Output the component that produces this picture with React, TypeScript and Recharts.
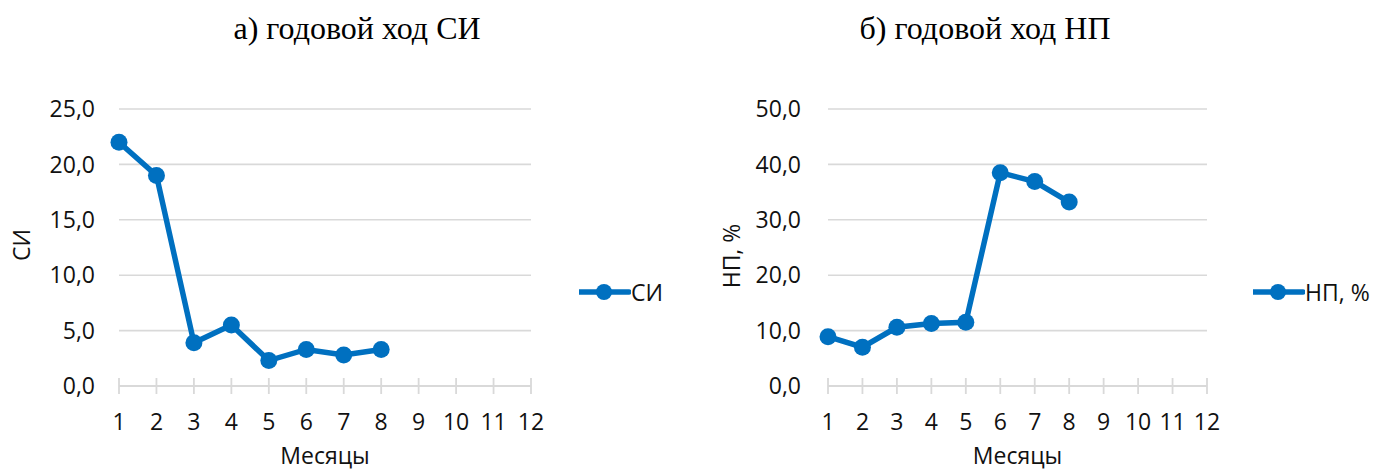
import React from 'react';
import { LineChart, Line, XAxis, YAxis, CartesianGrid, Legend } from 'recharts';

const months = [1, 2, 3, 4, 5, 6, 7, 8];
const siValues = [22.0, 19.0, 3.9, 5.5, 2.3, 3.3, 2.8, 3.3];
const npValues = [8.9, 7.0, 10.6, 11.3, 11.5, 38.5, 36.9, 33.2];
const xTicks = [1, 2, 3, 4, 5, 6, 7, 8, 9, 10, 11, 12];
const siTicks = [0, 5, 10, 15, 20, 25];
const npTicks = [0, 10, 20, 30, 40, 50];
const titleSI = 'а) годовой ход СИ';
const titleNP = 'б) годовой ход НП';
const xAxisTitle = 'Месяцы';
const siName = 'СИ';
const npName = 'НП, %';

const siData = months.map((m, i) => ({ m, v: siValues[i] }));
const npData = months.map((m, i) => ({ m, v: npValues[i] }));

const BLUE = '#0070C0';
const GRID = '#d9d9d9';
const TEXT = '#111111';
const SANS = "'Open Sans', 'Noto Sans', sans-serif";
const FS = 23;
const X_TICK_MARGIN = 35;

const fmt = (v: number) => v.toFixed(1).replace('.', ',');

const XTick = (props: any) => {
  const { x, y, payload } = props;
  const axisY = y - X_TICK_MARGIN;
  return (
    <g>
      <line x1={x} x2={x} y1={axisY - 8} y2={axisY + 8} stroke={GRID} strokeWidth={1.8} />
      <text x={x} y={y} textAnchor="middle" dominantBaseline="central" fontFamily={SANS} fontSize={FS} fill={TEXT}>
        {payload.value}
      </text>
    </g>
  );
};

const makeLegend = () => (props: any) => {
  const item = (props.payload || [])[0];
  if (!item) return null;
  return (
    <div style={{ display: 'flex', alignItems: 'center', height: 24 }}>
      <svg width={52} height={24} style={{ display: 'block' }}>
        <line x1={0} x2={50} y1={12} y2={12} stroke={BLUE} strokeWidth={5.5} strokeLinecap="round" />
        <circle cx={25} cy={12} r={8} fill={BLUE} />
      </svg>
      <span style={{ fontFamily: SANS, fontSize: FS, color: TEXT, whiteSpace: 'nowrap', lineHeight: '24px' }}>{item.value}</span>
    </div>
  );
};

const yTitle = (text: string, dx: number, cy: number) => (p: any) => {
  const vb = p.viewBox || {};
  const x = (vb.x || 0) + dx;
  return (
    <text
      x={x}
      y={cy}
      transform={`rotate(-90 ${x} ${cy})`}
      textAnchor="middle"
      dominantBaseline="central"
      fontFamily={SANS}
      fontSize={FS}
      fill={TEXT}
    >
      {text}
    </text>
  );
};

const xTitle = (text: string, cy: number) => (p: any) => {
  const vb = p.viewBox || {};
  const x = (vb.x || 0) + (vb.width || 0) / 2;
  return (
    <text x={x} y={cy} textAnchor="middle" dominantBaseline="central" fontFamily={SANS} fontSize={FS} fill={TEXT}>
      {text}
    </text>
  );
};

type PanelProps = {
  data: { m: number; v: number }[];
  yTicks: number[];
  yMax: number;
  yAxisWidth: number;
  plotWidth: number;
  yTickMargin: number;
  name: string;
  yTitleDx: number;
  yTitleCy: number;
  width: number;
  legendLeft: number;
};

const Panel = (p: PanelProps) => (
  <LineChart
    width={p.width}
    height={472}
    data={p.data}
    margin={{ top: 109, right: p.width - p.yAxisWidth - p.plotWidth, bottom: 0, left: 0 }}
  >
    <CartesianGrid horizontal vertical={false} stroke={GRID} strokeWidth={1.6} />
    <XAxis
      dataKey="m"
      type="number"
      domain={[1, 12]}
      ticks={xTicks}
      interval={0}
      height={86}
      tickSize={0}
      tickMargin={X_TICK_MARGIN}
      tickLine={false}
      axisLine={{ stroke: GRID, strokeWidth: 1.8 }}
      tick={<XTick />}
      label={{ content: xTitle(xAxisTitle, 455) }}
    />
    <YAxis
      type="number"
      domain={[0, p.yMax]}
      ticks={p.yTicks}
      interval={0}
      width={p.yAxisWidth}
      axisLine={false}
      tickLine={false}
      tickSize={0}
      tickMargin={p.yTickMargin}
      tickFormatter={fmt}
      tick={{ fontFamily: SANS, fontSize: FS, fill: TEXT }}
      label={{ content: yTitle(p.name, p.yTitleDx, p.yTitleCy) }}
    />
    <Legend
      layout="horizontal"
      align="center"
      verticalAlign="middle"
      content={makeLegend()}
      wrapperStyle={{ left: p.legendLeft, top: 280, width: 130, height: 24 }}
    />
    <Line
      type="linear"
      dataKey="v"
      name={p.name}
      stroke={BLUE}
      strokeWidth={5.5}
      dot={{ r: 8.5, fill: BLUE, stroke: BLUE, strokeWidth: 0 }}
      activeDot={false}
      isAnimationActive={false}
    />
  </LineChart>
);

const titleStyle = (center: number): React.CSSProperties => ({
  position: 'absolute',
  top: 12,
  left: center - 250,
  width: 500,
  textAlign: 'center',
  fontFamily: "'Liberation Serif', 'Times New Roman', serif",
  fontSize: 32,
  lineHeight: '32px',
  color: '#000',
  whiteSpace: 'nowrap',
});

export default function App() {
  return (
    <div style={{ position: 'absolute', left: 0, top: 0, width: 1376, height: 472, background: '#fff', overflow: 'hidden' }}>
      <div style={titleStyle(357)}>{titleSI}</div>
      <div style={titleStyle(985)}>{titleNP}</div>
      <div style={{ position: 'absolute', left: 0, top: 0 }}>
        <Panel
          data={siData}
          yTicks={siTicks}
          yMax={25}
          yAxisWidth={119}
          plotWidth={412}
          yTickMargin={24}
          name={siName}
          yTitleDx={21}
          yTitleCy={245}
          width={700}
          legendLeft={579}
        />
      </div>
      <div style={{ position: 'absolute', left: 700, top: 0 }}>
        <Panel
          data={npData}
          yTicks={npTicks}
          yMax={50}
          yAxisWidth={128}
          plotWidth={379}
          yTickMargin={27}
          name={npName}
          yTitleDx={31}
          yTitleCy={256}
          width={676}
          legendLeft={553}
        />
      </div>
    </div>
  );
}
